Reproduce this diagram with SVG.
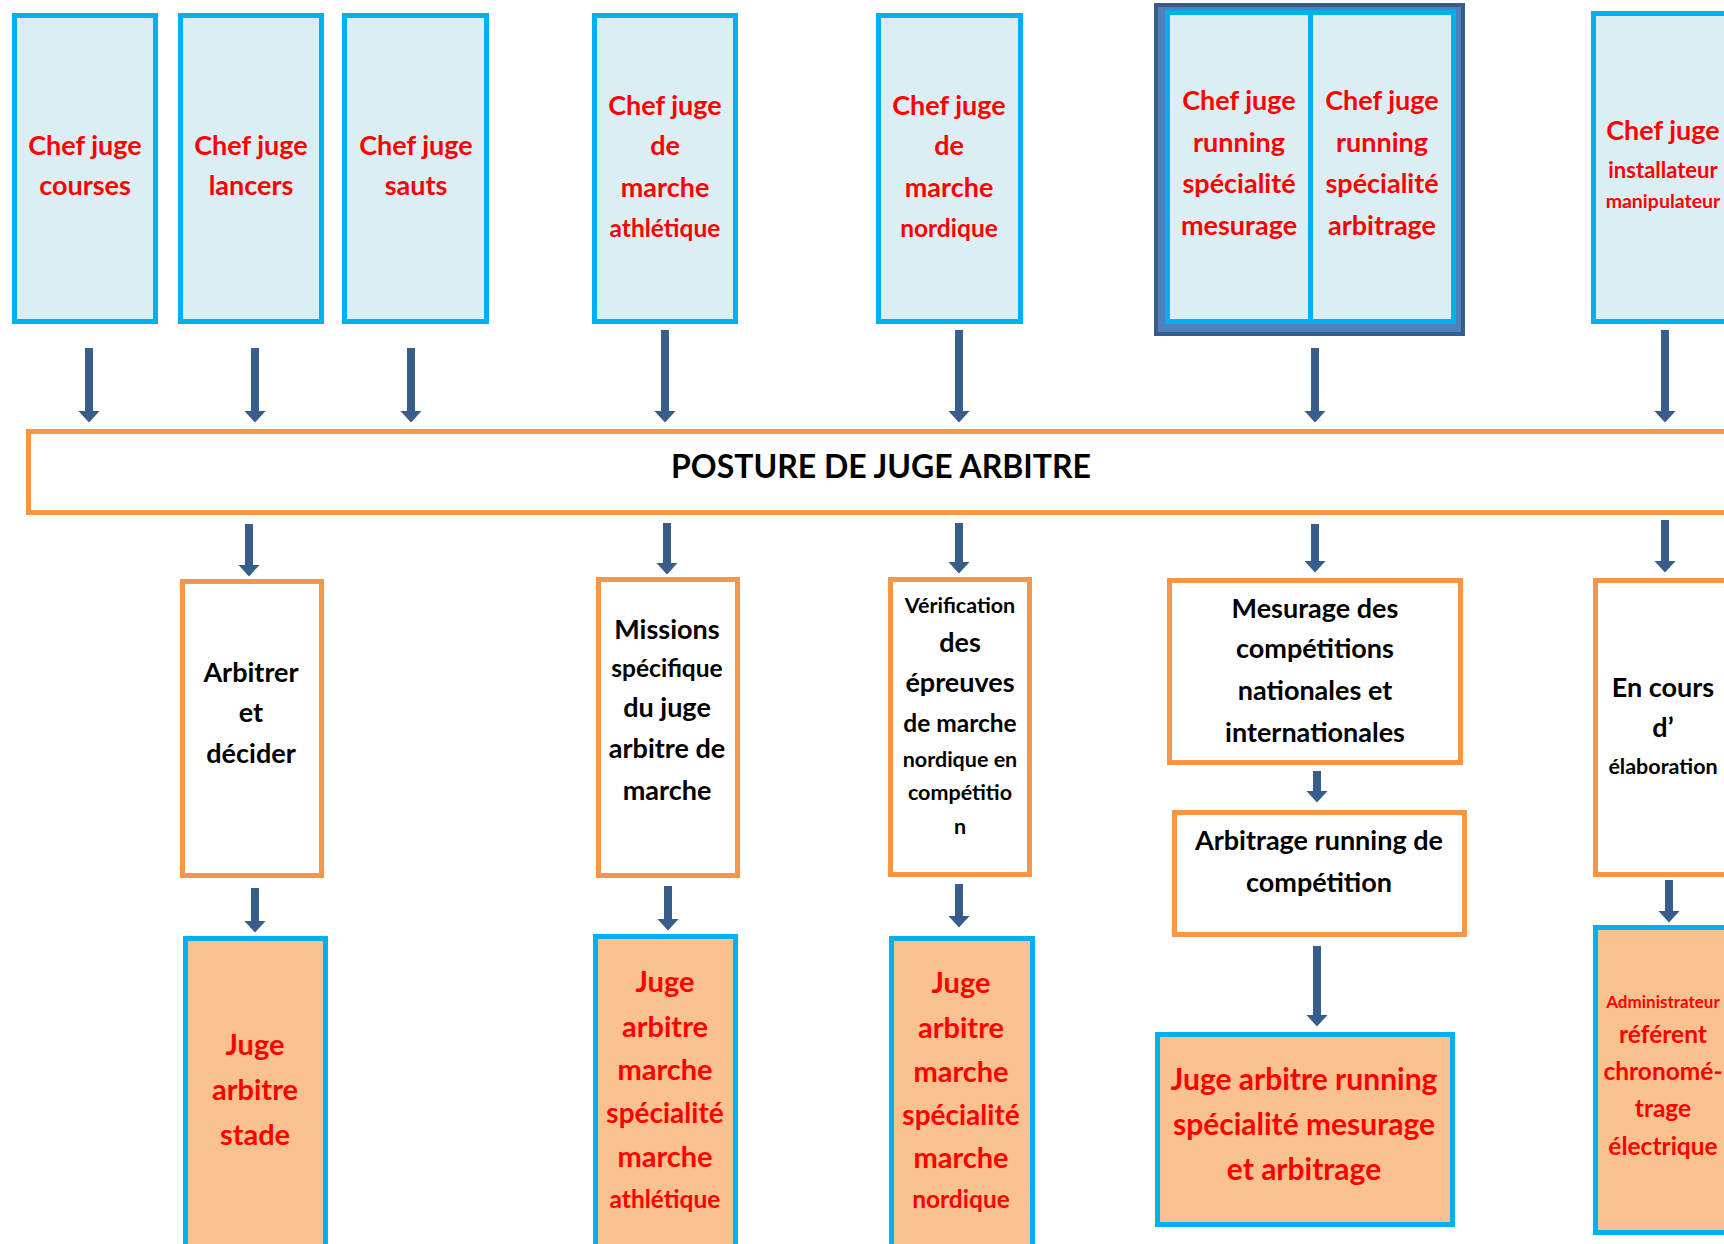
<svg xmlns="http://www.w3.org/2000/svg" width="1724" height="1244" viewBox="0 0 1724 1244">
<defs>
<marker id="ah" viewBox="0 0 12 22" refX="0.5" refY="11" markerWidth="12" markerHeight="22" markerUnits="userSpaceOnUse" orient="auto">
<path d="M0,0 L12,11 L0,22 Z" fill="#385D8A"/>
</marker>
<style>
.chef{fill:#DBEEF4;stroke:#00B0F0;stroke-width:5}
.mid{fill:#FFFFFF;stroke:#F79646;stroke-width:5}
.res{fill:#F9C090;stroke:#00B0F0;stroke-width:5}
.frame{fill:#4F81BD;stroke:#385D8A;stroke-width:4}
text{font-family:Lato,"Open Sans","Liberation Sans",sans-serif;font-weight:bold;text-anchor:middle}
.r{fill:#FF0000;font-size:27px}
.k{fill:#000000;font-size:27px}
.s24{font-size:24.5px}
.s22{font-size:22px}
.s21{font-size:21.5px}
.s19{font-size:19.5px}
.s17{font-size:17px}
.b29{font-size:29px}
.b28{font-size:28px}
.b30{font-size:30px}
.title{fill:#000000;font-size:32px}
.arr line{stroke:#385D8A;stroke-width:8;marker-end:url(#ah)}
</style>
</defs>
<rect width="1724" height="1244" fill="#FFFFFF"/>

<g id="chef-courses">
<rect class="chef" x="14.5" y="15.5" width="141" height="306"/>
<text class="r" x="85" y="155">Chef juge</text>
<text class="r" x="85" y="195">courses</text>
</g>
<g id="chef-lancers">
<rect class="chef" x="180.5" y="15.5" width="141" height="306"/>
<text class="r" x="251" y="155">Chef juge</text>
<text class="r" x="251" y="195">lancers</text>
</g>
<g id="chef-sauts">
<rect class="chef" x="344.5" y="15.5" width="142" height="306"/>
<text class="r" x="416" y="155">Chef juge</text>
<text class="r" x="416" y="195">sauts</text>
</g>
<g id="chef-marche-athletique">
<rect class="chef" x="594.5" y="15.5" width="141" height="306"/>
<text class="r" x="665" y="115">Chef juge</text>
<text class="r" x="665" y="155">de</text>
<text class="r" x="665" y="197">marche</text>
<text class="r s24" x="665" y="237">athlétique</text>
</g>
<g id="chef-marche-nordique">
<rect class="chef" x="878.5" y="15.5" width="142" height="306"/>
<text class="r" x="949" y="115">Chef juge</text>
<text class="r" x="949" y="155">de</text>
<text class="r" x="949" y="197">marche</text>
<text class="r s24" x="949" y="237">nordique</text>
</g>
<g id="chef-running">
<rect class="frame" x="1156" y="5" width="307" height="329"/>
<g id="chef-running-mesurage">
<rect class="chef" x="1167.5" y="12.5" width="143" height="309"/>
<text class="r" x="1239" y="110">Chef juge</text>
<text class="r" x="1239" y="152">running</text>
<text class="r" x="1239" y="193">spécialité</text>
<text class="r" x="1239" y="235">mesurage</text>
</g>
<g id="chef-running-arbitrage">
<rect class="chef" x="1310.5" y="12.5" width="143" height="309"/>
<text class="r" x="1382" y="110">Chef juge</text>
<text class="r" x="1382" y="152">running</text>
<text class="r" x="1382" y="193">spécialité</text>
<text class="r" x="1382" y="235">arbitrage</text>
</g>
</g>
<g id="chef-installateur">
<rect class="chef" x="1593.5" y="13.5" width="145" height="308"/>
<text class="r" x="1663" y="140">Chef juge</text>
<text class="r s22" x="1663" y="178">installateur</text>
<text class="r s19" x="1663" y="208">manipulateur</text>
</g>

<g id="posture">
<rect class="mid" x="28.5" y="431.5" width="1720" height="81"/>
<text class="title" x="881" y="478">POSTURE DE JUGE ARBITRE</text>
</g>

<g id="arbitrer">
<rect class="mid" x="182.5" y="581.5" width="139" height="294"/>
<text class="k" x="251" y="682">Arbitrer</text>
<text class="k" x="251" y="722">et</text>
<text class="k" x="251" y="763">décider</text>
</g>
<g id="missions">
<rect class="mid" x="598.5" y="579.5" width="139" height="296"/>
<text class="k" x="667" y="639">Missions</text>
<text class="k s24" x="667" y="677">spécifique</text>
<text class="k" x="667" y="717">du juge</text>
<text class="k" x="667" y="758">arbitre de</text>
<text class="k" x="667" y="800">marche</text>
</g>
<g id="verification">
<rect class="mid" x="890.5" y="579.5" width="139" height="295"/>
<text class="k s21" x="960" y="613">Vérification</text>
<text class="k" x="960" y="652">des</text>
<text class="k" x="960" y="692">épreuves</text>
<text class="k s24" x="960" y="732">de marche</text>
<text class="k s21" x="960" y="767">nordique en</text>
<text class="k s21" x="960" y="800">compétitio</text>
<text class="k s21" x="960" y="834">n</text>
</g>
<g id="mesurage">
<rect class="mid" x="1169.5" y="580.5" width="291" height="182"/>
<text class="k" x="1315" y="618">Mesurage des</text>
<text class="k" x="1315" y="658">compétitions</text>
<text class="k" x="1315" y="700">nationales et</text>
<text class="k" x="1315" y="742">internationales</text>
</g>
<g id="arbitrage-running">
<rect class="mid" x="1174.5" y="812.5" width="290" height="122"/>
<text class="k" x="1319" y="850">Arbitrage running de</text>
<text class="k" x="1319" y="892">compétition</text>
</g>
<g id="en-cours">
<rect class="mid" x="1595.5" y="580.5" width="145" height="294"/>
<text class="k" x="1663" y="697">En cours</text>
<text class="k" x="1663" y="737">d’</text>
<text class="k s21" x="1663" y="774">élaboration</text>
</g>

<g id="ja-stade">
<rect class="res" x="185.5" y="938.5" width="140" height="400"/>
<text class="r b29" x="255" y="1055">Juge</text>
<text class="r b29" x="255" y="1100">arbitre</text>
<text class="r b29" x="255" y="1145">stade</text>
</g>
<g id="ja-marche-athletique">
<rect class="res" x="595.5" y="936.5" width="140" height="400"/>
<text class="r b29" x="665" y="992">Juge</text>
<text class="r b29" x="665" y="1037">arbitre</text>
<text class="r b29" x="665" y="1080">marche</text>
<text class="r b28" x="665" y="1123">spécialité</text>
<text class="r b29" x="665" y="1167">marche</text>
<text class="r s24" x="665" y="1208">athlétique</text>
</g>
<g id="ja-marche-nordique">
<rect class="res" x="891.5" y="938.5" width="141" height="400"/>
<text class="r b29" x="961" y="993">Juge</text>
<text class="r b29" x="961" y="1038">arbitre</text>
<text class="r b29" x="961" y="1082">marche</text>
<text class="r b28" x="961" y="1125">spécialité</text>
<text class="r b29" x="961" y="1168">marche</text>
<text class="r s24" x="961" y="1208">nordique</text>
</g>
<g id="ja-running">
<rect class="res" x="1157.5" y="1034.5" width="295" height="190"/>
<text class="r b30" x="1304" y="1090">Juge arbitre running</text>
<text class="r b30" x="1304" y="1135">spécialité mesurage</text>
<text class="r b30" x="1304" y="1180">et arbitrage</text>
</g>
<g id="admin-chrono">
<rect class="res" x="1595.5" y="927.5" width="145" height="305"/>
<text class="r s17" x="1663" y="1008">Administrateur</text>
<text class="r s24" x="1663" y="1043">référent</text>
<text class="r s24" x="1663" y="1080">chronomé-</text>
<text class="r s24" x="1663" y="1117">trage</text>
<text class="r s24" x="1663" y="1155">électrique</text>
</g>

<g id="connectors" class="arr">
<line x1="89" y1="348" x2="89" y2="411"/>
<line x1="255" y1="348" x2="255" y2="411"/>
<line x1="411" y1="348" x2="411" y2="411"/>
<line x1="665" y1="330" x2="665" y2="411"/>
<line x1="959" y1="330" x2="959" y2="411"/>
<line x1="1315" y1="348" x2="1315" y2="411"/>
<line x1="1665" y1="330" x2="1665" y2="411"/>
<line x1="249" y1="524" x2="249" y2="565"/>
<line x1="667" y1="523" x2="667" y2="563"/>
<line x1="959" y1="523" x2="959" y2="562"/>
<line x1="1315" y1="524" x2="1315" y2="561"/>
<line x1="1665" y1="520" x2="1665" y2="561"/>
<line x1="1317" y1="771" x2="1317" y2="791"/>
<line x1="255" y1="888" x2="255" y2="921"/>
<line x1="668" y1="886" x2="668" y2="919"/>
<line x1="959" y1="884" x2="959" y2="916"/>
<line x1="1317" y1="946" x2="1317" y2="1015"/>
<line x1="1669" y1="880" x2="1669" y2="911"/>
</g>
</svg>
